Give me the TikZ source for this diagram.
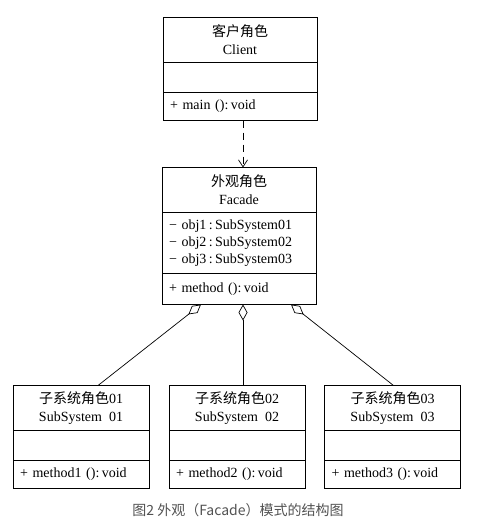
\documentclass[tikz,border=0pt]{standalone}
\usepackage{fontspec}
\setmainfont{Liberation Serif}
\newfontfamily\cjk{Noto Sans CJK SC}
\usetikzlibrary{positioning,arrows.meta}

\tikzset{
    classtitle/.style={draw, line width=0.8pt, minimum height=45pt, align=center,
        inner sep=0pt, outer sep=0pt, font=\fontsize{14}{18}\selectfont},
    classpart/.style={draw, line width=0.8pt, inner xsep=7pt, inner ysep=0pt, outer sep=0pt,
        align=left, font=\fontsize{14}{17}\selectfont},
    bigw/.style={minimum width=154pt, text width=140pt},
    smallw/.style={minimum width=136pt, text width=122pt},
    assoc/.style={line width=0.7pt, {Diamond[open,length=16pt,width=9pt]}-}
}

\begin{document}
\begin{tikzpicture}[x=1pt, y=-1pt]
    \useasboundingbox (0,0) rectangle (485,532);

    \node[classtitle, minimum width=154pt] (client) at (240,40) {{\cjk 客户角色}\\Client};
    \node[classpart, bigw, minimum height=30pt, below=0pt of client] (clientattr) {};
    \node[classpart, bigw, minimum height=28pt, below=0pt of clientattr] (clientops) {+ main ():\,void};

    \node[classtitle, minimum width=154pt] (facade) at (239,190) {{\cjk 外观角色}\\Facade};
    \node[classpart, bigw, minimum height=61pt, below=0pt of facade] (facadeattr)
        {− obj1\,:\,SubSystem01\\− obj2\,:\,SubSystem02\\− obj3\,:\,SubSystem03};
    \node[classpart, bigw, minimum height=31pt, below=0pt of facadeattr] (facadeops) {+ method ():\,void};

    \node[classtitle, minimum width=136pt] (sub1) at (81,408) {{\cjk 子系统角色}01\\SubSystem\ \ 01};
    \node[classpart, smallw, minimum height=30pt, below=0pt of sub1] (sub1attr) {};
    \node[classpart, smallw, minimum height=28pt, below=0pt of sub1attr] (sub1ops) {+ method1 ():\,void};

    \node[classtitle, minimum width=136pt] (sub2) at (237,408) {{\cjk 子系统角色}02\\SubSystem\ \ 02};
    \node[classpart, smallw, minimum height=30pt, below=0pt of sub2] (sub2attr) {};
    \node[classpart, smallw, minimum height=28pt, below=0pt of sub2attr] (sub2ops) {+ method2 ():\,void};

    \node[classtitle, minimum width=136pt] (sub3) at (392.5,408) {{\cjk 子系统角色}03\\SubSystem\ \ 03};
    \node[classpart, smallw, minimum height=30pt, below=0pt of sub3] (sub3attr) {};
    \node[classpart, smallw, minimum height=28pt, below=0pt of sub3attr] (sub3ops) {+ method3 ():\,void};

    \draw[line width=0.7pt, dash pattern=on 7pt off 5pt, -{Straight Barb[length=7pt,width=9pt]}]
        ([xshift=3pt]clientops.south) -- ([xshift=4pt]facade.north);

    \draw[assoc] ([xshift=-38pt]facadeops.south) -- ([xshift=17pt]sub1.north);
    \draw[assoc] ([xshift=4pt]facadeops.south) -- ([xshift=6pt]sub2.north);
    \draw[assoc] ([xshift=52pt]facadeops.south) -- ([xshift=1pt]sub3.north);

    \node[font=\cjk\fontsize{14}{16}\selectfont, text=black!68] (caption) at (238,510)
        {图2 外观（Facade）模式的结构图};
\end{tikzpicture}
\end{document}
